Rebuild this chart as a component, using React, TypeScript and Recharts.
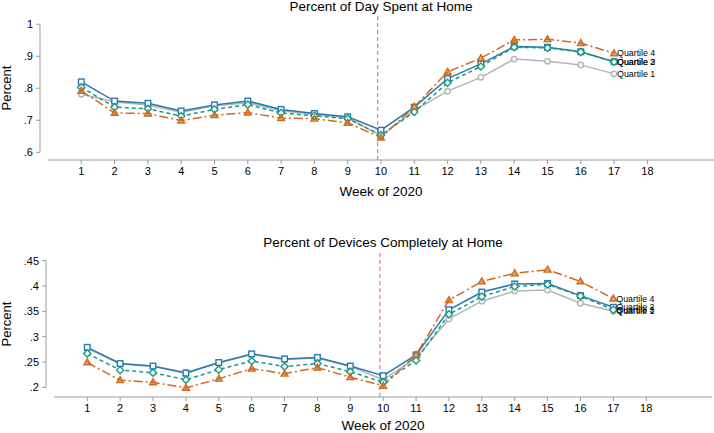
import { LineChart, Line, XAxis, YAxis, ReferenceLine } from 'recharts';

const weeks = [1, 2, 3, 4, 5, 6, 7, 8, 9, 10, 11, 12, 13, 14, 15, 16, 17];
const weekTicks = [1, 2, 3, 4, 5, 6, 7, 8, 9, 10, 11, 12, 13, 14, 15, 16, 17, 18];

// Percent of day spent at home, by quartile
const dayQ1 = [0.781, 0.757, 0.748, 0.725, 0.745, 0.755, 0.730, 0.718, 0.708, 0.651, 0.731, 0.791, 0.834, 0.891, 0.884, 0.873, 0.845];
const dayQ2 = [0.820, 0.760, 0.753, 0.729, 0.748, 0.760, 0.734, 0.721, 0.711, 0.669, 0.741, 0.830, 0.876, 0.930, 0.928, 0.914, 0.883];
const dayQ3 = [0.803, 0.741, 0.736, 0.713, 0.734, 0.749, 0.723, 0.714, 0.705, 0.654, 0.726, 0.817, 0.868, 0.928, 0.926, 0.913, 0.882];
const dayQ4 = [0.792, 0.723, 0.721, 0.699, 0.716, 0.724, 0.707, 0.705, 0.692, 0.646, 0.742, 0.851, 0.894, 0.951, 0.953, 0.941, 0.909];
const dayTicks = [0.6, 0.7, 0.8, 0.9, 1];

// Percent of devices completely at home, by quartile
const devQ1 = [0.277, 0.246, 0.241, 0.230, 0.248, 0.265, 0.255, 0.258, 0.241, 0.215, 0.258, 0.335, 0.370, 0.390, 0.392, 0.366, 0.350];
const devQ2 = [0.279, 0.247, 0.242, 0.228, 0.249, 0.266, 0.256, 0.259, 0.242, 0.223, 0.264, 0.353, 0.388, 0.404, 0.405, 0.381, 0.358];
const devQ3 = [0.267, 0.234, 0.229, 0.215, 0.235, 0.252, 0.241, 0.247, 0.231, 0.210, 0.253, 0.344, 0.379, 0.399, 0.403, 0.380, 0.353];
const devQ4 = [0.249, 0.214, 0.210, 0.199, 0.217, 0.237, 0.227, 0.239, 0.220, 0.203, 0.264, 0.372, 0.409, 0.425, 0.432, 0.409, 0.375];
const devTicks = [0.2, 0.25, 0.3, 0.35, 0.4, 0.45];

const quartileNames = ['Quartile 1', 'Quartile 2', 'Quartile 3', 'Quartile 4'];
const shutdownWeek = 9.9;

const FONT = '"Liberation Sans", Arial, Helvetica, sans-serif';
const AXIS = '#9a9a9a';

const series = [
  { key: 'q1', color: '#b4b4b4', dash: undefined, shape: 'circle' },
  { key: 'q2', color: '#2b78b2', dash: undefined, shape: 'square' },
  { key: 'q3', color: '#1a9a82', dash: '4 3', shape: 'diamond' },
  { key: 'q4', color: '#d2691e', dash: '9 3 2 3', shape: 'triangle' },
];

const toRows = (q1: number[], q2: number[], q3: number[], q4: number[]) =>
  weeks.map((week, i) => ({ week, q1: q1[i], q2: q2[i], q3: q3[i], q4: q4[i] }));

const dayData = toRows(dayQ1, dayQ2, dayQ3, dayQ4);
const devData = toRows(devQ1, devQ2, devQ3, devQ4);

const fmt = (v: number) => (v === 1 ? '1' : String(v).replace(/^0\./, '.'));

const Marker = ({ cx, cy, shape, color }: any) => {
  if (cx == null || cy == null) return null;
  const p = { fill: '#fff', stroke: color, strokeWidth: 1.4 };
  if (shape === 'square') return <rect x={cx - 2.8} y={cy - 2.8} width={5.6} height={5.6} {...p} />;
  if (shape === 'diamond')
    return <polygon points={`${cx},${cy - 3.6} ${cx + 3.6},${cy} ${cx},${cy + 3.6} ${cx - 3.6},${cy}`} {...p} />;
  if (shape === 'triangle')
    return <polygon points={`${cx},${cy - 3.6} ${cx + 3.4},${cy + 2.4} ${cx - 3.4},${cy + 2.4}`} {...p} fill={color} fillOpacity={0.55} />;
  return <circle cx={cx} cy={cy} r={2.7} {...p} />;
};

const Panel = ({ data, ticks, yDomain, xMin, yWidth, height, margin, yTop, yBottom }: any) => (
  <LineChart width={714} height={height} data={data} margin={margin}>
    <XAxis
      dataKey="week"
      type="number"
      domain={[xMin, 20]}
      ticks={weekTicks}
      axisLine={false}
      tickLine={{ stroke: AXIS }}
      tickSize={4}
      tickMargin={3}
      height={30}
      tick={{ fontSize: 11, fill: '#000' }}
    />
    <YAxis
      type="number"
      domain={yDomain}
      ticks={ticks}
      tickFormatter={fmt}
      axisLine={false}
      tickLine={{ stroke: AXIS }}
      tickSize={4}
      tickMargin={3}
      width={yWidth}
      tick={{ fontSize: 11, fill: '#000' }}
    />
    <ReferenceLine
      segment={[{ x: xMin, y: yBottom }, { x: xMin, y: yTop }]}
      stroke={AXIS}
      strokeWidth={1}
      ifOverflow="visible"
    />
    <ReferenceLine
      segment={[{ x: 0, y: yDomain[0] }, { x: 20, y: yDomain[0] }]}
      stroke={AXIS}
      strokeWidth={1}
      ifOverflow="visible"
    />
    <ReferenceLine x={shutdownWeek} stroke="#c9679b" strokeDasharray="4 3" strokeWidth={1} />
    {series.map((s, si) => (
      <Line
        key={s.key}
        dataKey={s.key}
        stroke={s.color}
        strokeWidth={1.5}
        strokeDasharray={s.dash}
        isAnimationActive={false}
        dot={(p: any) => <Marker key={`${s.key}-${p.index}`} cx={p.cx} cy={p.cy} shape={s.shape} color={s.color} />}
        label={(p: any) =>
          p.index === data.length - 1 ? (
            <text key={`lbl-${s.key}`} x={p.x + 3} y={p.y} dy="0.35em" fontSize={8.8} fill="#000">
              {quartileNames[si]}
            </text>
          ) : (
            <g key={`lbl-${s.key}-${p.index}`} />
          )
        }
      />
    ))}
  </LineChart>
);

const titleStyle = (top: number, left: number, width: number): React.CSSProperties => ({
  position: 'absolute',
  top,
  left,
  width,
  textAlign: 'center',
  fontSize: 13.5,
  lineHeight: '16px',
  color: '#000',
});

const yLabelStyle = (cy: number): React.CSSProperties => ({
  position: 'absolute',
  left: 7 - 50,
  top: cy - 8,
  width: 100,
  height: 16,
  lineHeight: '16px',
  textAlign: 'center',
  fontSize: 13,
  transform: 'rotate(-90deg)',
});

export default function App() {
  return (
    <div style={{ position: 'absolute', left: 0, top: 0, width: 714, height: 433, fontFamily: FONT, background: '#fff' }}>
      <div style={{ position: 'absolute', left: 0, top: 0 }}>
        <Panel
          data={dayData}
          ticks={dayTicks}
          yDomain={[0.576, 1.035]}
          yTop={1}
          yBottom={0.6}
          xMin={-0.24}
          yWidth={40}
          height={200}
          margin={{ top: 13, right: 0, bottom: 10, left: 0 }}
        />
      </div>
      <div style={{ position: 'absolute', left: 0, top: 220 }}>
        <Panel
          data={devData}
          ticks={devTicks}
          yDomain={[0.181, 0.467]}
          yTop={0.45}
          yBottom={0.2}
          xMin={-0.255}
          yWidth={46}
          height={213}
          margin={{ top: 32, right: 2, bottom: 6, left: 0 }}
        />
      </div>
      <div style={titleStyle(-1, 48, 666)}>Percent of Day Spent at Home</div>
      <div style={titleStyle(184, 48, 666)}>Week of 2020</div>
      <div style={titleStyle(235, 54, 658)}>Percent of Devices Completely at Home</div>
      <div style={titleStyle(418, 54, 658)}>Week of 2020</div>
      <div style={yLabelStyle(88)}>Percent</div>
      <div style={yLabelStyle(324)}>Percent</div>
    </div>
  );
}
